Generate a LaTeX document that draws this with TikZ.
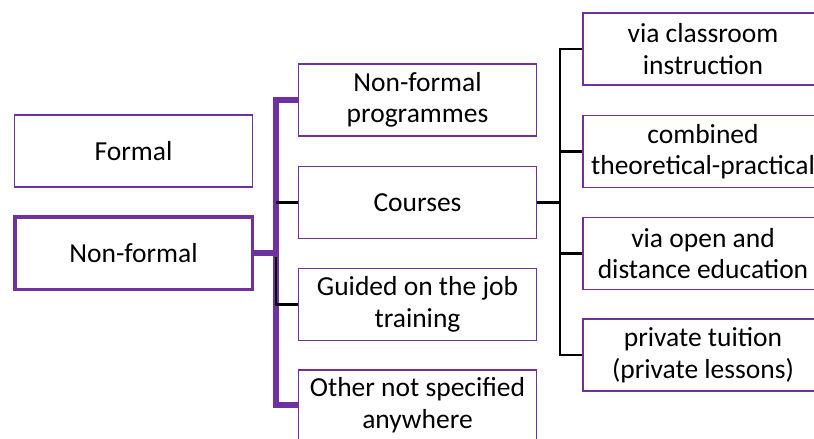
\documentclass[tikz,border=0pt]{standalone}
\usepackage{fontspec}
\setmainfont{Carlito}
\definecolor{pur}{HTML}{7030A0}
\begin{document}
\begin{tikzpicture}[x=1pt,y=-1pt,
  box/.style={draw=pur, line width=1.6pt, fill=white, align=center, inner sep=0pt,
    minimum width=238pt, minimum height=72pt, font=\fontsize{27.5}{31.5}\selectfont},
  rbox/.style={box, minimum width=240pt},
  mainbox/.style={box, line width=3.5pt, minimum width=237.5pt, minimum height=72.5pt},
  pline/.style={draw=pur, line width=6pt, line join=miter},
  bline/.style={draw=black, line width=2.2pt, line join=miter}]
\useasboundingbox (0,0) rectangle (814,439);
% left column
\node[box] (formal) at (133.5,151) {Formal};
\node[mainbox] (nonformal) at (133.5,253) {Non-formal};
% middle column
\node[box] (nfprog) at (417.5,100) {Non-formal\\programmes};
\node[box] (courses) at (417.5,202.5) {Courses};
\node[box] (guided) at (417.5,304.5) {Guided on the job\\training};
\node[box, minimum height=70pt] (other) at (417.5,405) {Other not specified\\anywhere};
% right column
\node[rbox] (r1) at (703,49) {via classroom\\instruction};
\node[rbox] (r2) at (703,151.5) {combined\\theoretical-practical};
\node[rbox] (r3) at (703,253.5) {via open and\\distance education};
\node[rbox] (r4) at (703,355) {private tuition\\(private lessons)};
% junctions
\coordinate (j1) at (276,253);
\coordinate (j1b) at (276,257);
\coordinate (j2) at (560,202.5);
% purple connectors
\draw[pline] (nonformal.east) -- (j1);
\draw[pline] (nfprog.west) -| (j1);
\draw[pline] (other.west) -| (j1);
% black connectors
\draw[bline] (courses.west) -- (courses.west -| j1);
\draw[bline] (j1b) |- (guided.west);
\draw[bline] (courses.east) -- (j2);
\draw[bline] (r1.west) -| (j2);
\draw[bline] (r2.west) -| (j2);
\draw[bline] (r3.west) -| (j2);
\draw[bline] (r4.west) -| (j2);
\end{tikzpicture}
\end{document}
